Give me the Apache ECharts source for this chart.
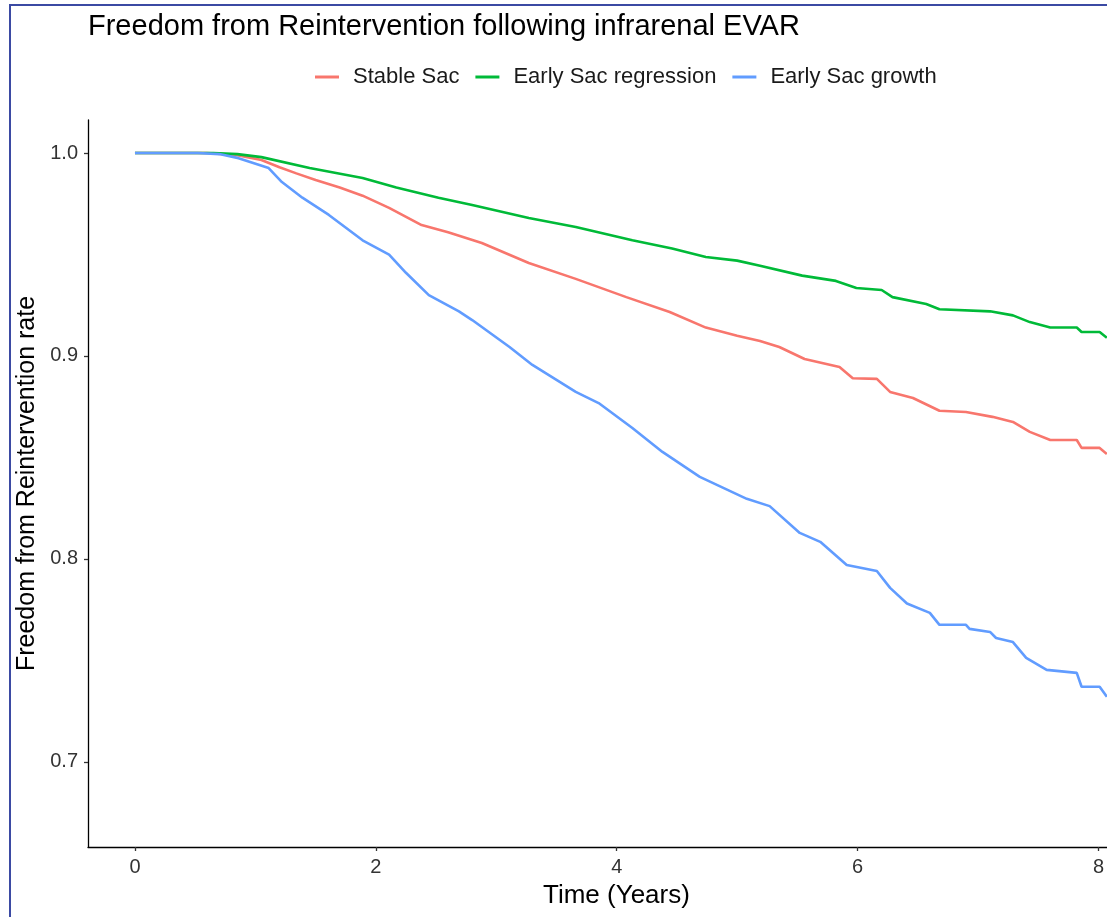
<!DOCTYPE html>
<html>
<head>
<meta charset="utf-8">
<script src="https://cdn.jsdelivr.net/npm/echarts@6/dist/echarts.min.js"></script>
<style>
  html, body { margin: 0; padding: 0; background: #fff; }
  #chart { width: 1107px; height: 917px; }
</style>
</head>
<body>
<div id="chart"></div>
<script>
// Kaplan-Meier style curves
var stableTime = [0, 0.6, 0.85, 1.05, 1.2, 1.34, 1.5, 1.7, 1.89, 2.11, 2.38, 2.6, 2.88, 3.27, 3.66, 4.08, 4.44, 4.74, 5.0, 5.19, 5.35, 5.56, 5.85, 5.96, 6.16, 6.27, 6.46, 6.68, 6.9, 7.12, 7.29, 7.43, 7.6, 7.82, 7.86, 8.01, 8.07];
var stableSurv = [1, 1, 0.999, 0.9966, 0.993, 0.990, 0.9867, 0.983, 0.979, 0.973, 0.9645, 0.961, 0.9557, 0.9458, 0.938, 0.929, 0.9217, 0.914, 0.910, 0.9074, 0.9044, 0.8985, 0.8946, 0.889, 0.8887, 0.8823, 0.8793, 0.873, 0.8724, 0.870, 0.8675, 0.8626, 0.8586, 0.8586, 0.8547, 0.8547, 0.8517];

var regressTime = [0, 0.65, 0.85, 1.05, 1.45, 1.89, 2.17, 2.52, 2.8, 3.27, 3.66, 4.13, 4.46, 4.74, 5.0, 5.19, 5.54, 5.82, 5.99, 6.2, 6.29, 6.57, 6.68, 7.1, 7.29, 7.43, 7.6, 7.82, 7.86, 8.01, 8.07];
var regressSurv = [1, 1, 0.9995, 0.998, 0.9926, 0.9877, 0.983, 0.978, 0.9744, 0.968, 0.9636, 0.957, 0.953, 0.9488, 0.947, 0.9445, 0.9396, 0.937, 0.9335, 0.9325, 0.929, 0.9256, 0.923, 0.922, 0.920, 0.9167, 0.914, 0.914, 0.9118, 0.9118, 0.909];

var growthTime = [0, 0.52, 0.7, 0.86, 1.11, 1.22, 1.39, 1.61, 1.89, 2.11, 2.25, 2.44, 2.69, 2.8, 3.11, 3.3, 3.66, 3.85, 4.13, 4.38, 4.69, 5.08, 5.27, 5.52, 5.69, 5.91, 6.16, 6.27, 6.41, 6.6, 6.68, 6.9, 6.93, 7.1, 7.15, 7.29, 7.4, 7.57, 7.82, 7.86, 8.01, 8.07];
var growthSurv = [1, 1, 0.9995, 0.9975, 0.9926, 0.9857, 0.978, 0.9695, 0.957, 0.950, 0.941, 0.930, 0.922, 0.9177, 0.9044, 0.8956, 0.8823, 0.8768, 0.8645, 0.8527, 0.8404, 0.8296, 0.826, 0.8128, 0.8084, 0.797, 0.794, 0.7857, 0.778, 0.7734, 0.7675, 0.7675, 0.7655, 0.764, 0.761, 0.759, 0.7512, 0.7453, 0.7438, 0.737, 0.737, 0.732];

var groupNames = ['Stable Sac', 'Early Sac regression', 'Early Sac growth'];
var xTicks = [0, 2, 4, 6, 8];
var yTicks = [0.7, 0.8, 0.9, 1.0];

function pairs(t, v) {
    return t.map(function (x, i) { return [x, v[i]]; });
}

var font = 'Liberation Sans, Arial, sans-serif';
var chart = echarts.init(document.getElementById('chart'));

var option = {
    animation: false,
    color: ['#F8766D', '#00BA38', '#619CFF'],
    textStyle: { fontFamily: font },
    title: {
        text: 'Freedom from Reintervention following infrarenal EVAR',
        left: 88,
        top: 12,
        padding: 0,
        textStyle: { fontFamily: font, fontSize: 29, fontWeight: 'normal', color: '#000' }
    },
    legend: {
        data: groupNames,
        left: 315,
        top: 66,
        padding: 0,
        icon: 'rect',
        itemWidth: 24,
        itemHeight: 3,
        itemGap: 16,
        textStyle: { fontFamily: font, fontSize: 22, color: '#1a1a1a', padding: [0, 0, 0, 9] }
    },
    grid: { left: 88, top: 120, right: 0, bottom: 70, containLabel: false },
    xAxis: {
        type: 'value',
        min: -0.39,
        max: 8.07,
        name: 'Time (Years)',
        nameLocation: 'middle',
        nameGap: 36,
        // panel is cropped on the right, so the title sits right of the visible middle
        nameTextStyle: { fontFamily: font, fontSize: 26, color: '#000', padding: [0, 0, 0, 38] },
        splitLine: { show: false },
        axisLine: { onZero: false, lineStyle: { color: '#000', width: 1.3 } },
        axisTick: { show: true, length: 4, customValues: xTicks, lineStyle: { color: '#333', width: 1.3 } },
        axisLabel: { customValues: xTicks, fontSize: 20, color: '#333', margin: 10 }
    },
    yAxis: {
        type: 'value',
        min: 0.658,
        max: 1.0163,
        name: 'Freedom from Reintervention rate',
        nameLocation: 'middle',
        nameGap: 40,
        nameTextStyle: { fontFamily: font, fontSize: 25, color: '#000' },
        splitLine: { show: false },
        axisLine: { show: true, onZero: false, lineStyle: { color: '#000', width: 1.3 } },
        axisTick: { show: true, length: 4, customValues: yTicks, lineStyle: { color: '#333', width: 1.3 } },
        axisLabel: {
            customValues: yTicks,
            fontSize: 20,
            color: '#333',
            margin: 10,
            formatter: function (v) { return v.toFixed(1); }
        }
    },
    series: [
        { name: groupNames[0], type: 'line', data: pairs(stableTime, stableSurv) },
        { name: groupNames[1], type: 'line', data: pairs(regressTime, regressSurv) },
        { name: groupNames[2], type: 'line', data: pairs(growthTime, growthSurv) }
    ].map(function (s) {
        s.showSymbol = false;
        s.symbol = 'none';
        s.lineStyle = { width: 2.6 };
        return s;
    }),
    graphic: [{
        type: 'rect',
        shape: { x: 10, y: 5, width: 1110, height: 920 },
        style: { fill: 'none', stroke: '#3b4aa3', lineWidth: 2 },
        silent: true
    }]
};

chart.setOption(option);
</script>
</body>
</html>
